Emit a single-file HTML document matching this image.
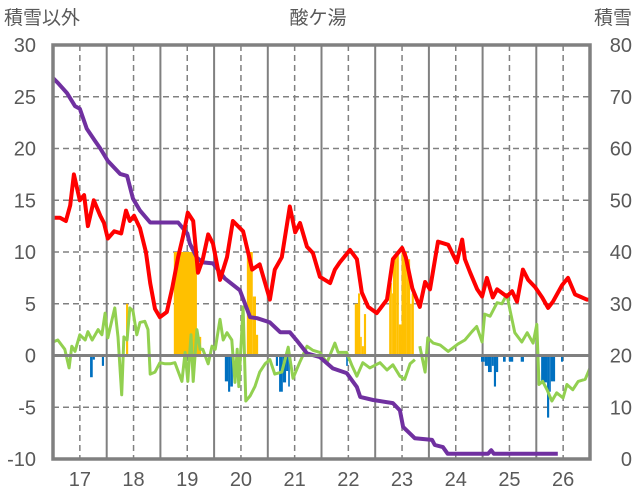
<!DOCTYPE html>
<html><head><meta charset="utf-8"><style>
html,body{margin:0;padding:0;background:#fff;}
svg{display:block;font-family:"Liberation Sans","Noto Sans CJK JP",sans-serif;}
</style></head><body>
<svg id="chart" width="636" height="501" viewBox="0 0 636 501">
<text x="4" y="24" font-size="19" fill="#595959">積雪以外</text>
<text x="318" y="24" font-size="19" fill="#595959" text-anchor="middle">酸ケ湯</text>
<text x="632" y="24" font-size="19" fill="#595959" text-anchor="end">積雪</text>
<g id="grid"></g>
<g id="bars"></g>
<g id="lines"></g>
<g id="axes"></g>
</svg>
<script>
const dayTicks=[17,18,19,20,21,22,23,24,25,26];
const leftTicks=[30,25,20,15,10,5,0,-5,-10];
const rightTicks=[80,70,60,50,40,30,20,10,0];
const redT=[16.50,16.63,16.74,16.82,16.89,17.00,17.08,17.15,17.26,17.38,17.45,17.52,17.64,17.77,17.86,17.93,18.01,18.12,18.23,18.31,18.40,18.49,18.62,18.72,18.83,18.92,19.01,19.11,19.20,19.29,19.39,19.48,19.61,19.74,19.85,20.04,20.21,20.35,20.54,20.63,20.76,20.91,21.01,21.10,21.23,21.34,21.47,21.66,21.75,21.84,22.03,22.16,22.25,22.37,22.53,22.72,22.83,23.00,23.07,23.19,23.33,23.43,23.52,23.67,23.86,24.02,24.12,24.17,24.27,24.40,24.49,24.58,24.69,24.77,24.95,25.05,25.14,25.25,25.35,25.48,25.61,25.72,25.81,25.98,26.09,26.22,26.31,26.44,26.50];
const redV=[13.3,13.3,13.0,14.5,17.5,15,15.5,12.5,15,13.5,12.8,11.3,12,11.8,14,13,13.5,12.3,10,7,4.5,3.7,4.2,6.5,9.5,11.5,13.8,13,8,9.3,11.7,10.8,7.3,9.5,13,12,8.3,8.8,5.4,8.3,9.5,14.4,11.9,12.8,10.5,9.9,7.6,7,8.3,9,10.2,9.3,6.1,4.7,4.1,5.4,9.3,10.4,9.5,6.5,4.7,7.1,6.4,11,10.7,9,11.2,9.3,8,6.4,5.7,7.5,5.6,6.4,5.7,6.2,5.2,8.3,7.3,6.6,5.6,4.6,5.2,6.8,7.5,5.9,5.7,5.4,5.4];
const greenT=[16.50,16.59,16.72,16.80,16.85,16.91,17.00,17.10,17.15,17.23,17.34,17.41,17.47,17.52,17.60,17.65,17.71,17.78,17.82,17.88,17.93,17.99,18.06,18.12,18.21,18.27,18.31,18.40,18.49,18.59,18.68,18.77,18.90,18.96,19.01,19.07,19.11,19.18,19.24,19.29,19.39,19.46,19.52,19.61,19.67,19.74,19.83,19.89,19.93,19.96,20.04,20.09,20.17,20.26,20.35,20.45,20.54,20.63,20.76,20.88,20.97,21.10,21.23,21.34,21.47,21.60,21.75,21.81,21.97,22.07,22.16,22.27,22.40,22.59,22.72,22.83,22.96,23.05,23.15,23.24,23.28,23.33,23.43,23.48,23.58,23.71,23.86,24.04,24.17,24.30,24.39,24.49,24.54,24.64,24.77,24.86,24.95,25.01,25.10,25.23,25.33,25.44,25.51,25.55,25.62,25.70,25.79,25.88,26.00,26.07,26.18,26.28,26.41,26.50];
const greenV=[1.3,1.5,0.6,-1.2,0.9,0.4,2,1.5,2.3,1.5,2.5,2,4.1,1.7,3.5,4.6,1.8,-3.8,1.8,1.5,4.6,4.3,2,3.2,3.3,2.5,-1.8,-1.6,-0.7,-0.8,-0.8,-0.7,-2.5,0.3,-2.5,2,-2.5,2.5,0.6,0.6,-0.8,0.9,0.6,3.5,1.5,2.2,1.5,-2.6,0.6,-3,4.7,-4.4,-3.9,-3,-1.6,-0.8,-0.4,-1.8,-1.6,0.8,-2.2,-0.6,0.9,0.5,0.3,-0.7,1.2,0.3,0.3,-1,-2,-0.7,-1.2,-0.7,-1.4,-0.9,-2,-2.3,-0.8,-0.4,null,0.9,-1.6,1.7,1.2,1.0,0.4,1.1,1.5,2.3,2.8,1.3,4,3.8,5.1,5.0,5.9,4.4,2.2,1.3,2.2,1.2,3,-2.8,-2.5,-3.3,-4.4,-3.6,-4.1,-2.8,-3.3,-2.5,-2.3,-1.2];
const snowT=[16.50,16.59,16.76,16.91,17.00,17.13,17.28,17.38,17.52,17.75,17.88,17.99,18.12,18.31,18.83,19.00,19.05,19.18,19.29,19.48,19.70,19.98,20.17,20.30,20.54,20.73,20.91,21.04,21.23,21.47,21.71,21.97,22.16,22.22,22.46,22.83,22.96,23.02,23.24,23.56,23.61,23.76,23.85,24.60,24.66,24.71,25.90];
const snowV=[73.6,72.7,70.7,68.2,67.7,63.8,61.5,60,57.6,55.1,54.7,50.3,48,45.7,45.7,43.6,41.6,38.9,38,37.8,34.9,32.6,27.4,27.2,26.4,24.5,24.5,22.9,20.4,19.7,17.5,16.6,13.9,12,11.4,10.8,9.4,6.2,4,3.7,2.7,2.3,1,1,1.7,1,1];
const yelStart=[17.86,18.75,19.18,20.11,20.22,20.28,22.12,22.18,22.22,22.25,22.29,22.76,22.81,22.83,22.90,22.94,22.99,23.09,23.15,23.18];
const yelEnd=[17.90,19.18,19.26,20.22,20.28,20.32,22.18,22.22,22.25,22.29,22.33,22.81,22.83,22.90,22.94,22.99,23.09,23.15,23.18,23.22];
const yelV=[5,10,1.8,10,5.7,2,5,6,1.8,0.9,4,7,6,9.5,10,3,10,9.3,5,6];
const bluStart=[17.19,17.24,17.41,19.70,19.76,19.80,20.65,20.71,20.78,20.84,20.88,21.96,24.47,24.54,24.60,24.67,24.71,24.75,24.88,24.99,25.21,25.59,25.70,25.74,25.77,25.96];
const bluEnd=[17.24,17.28,17.45,19.76,19.80,19.85,20.69,20.78,20.84,20.88,20.91,21.99,24.54,24.60,24.67,24.71,24.75,24.79,24.93,25.07,25.27,25.70,25.74,25.77,25.85,26.00];
const bluV=[-2.1,-0.4,-1,-2.5,-3.5,-3,-1,-3.5,-2.6,-1.5,-3,-1,-0.6,-1,-1.6,-1,-3,-1.6,-0.6,-0.6,-0.6,-2.6,-6,-3.5,-2.5,-0.6];

const L=53,R=590,T=45,B=459,t0=16.5,t1=26.5;
const X=t=>L+(t-t0)/(t1-t0)*(R-L);
const Y=v=>B-(v+10)/40*(B-T);
const YR=s=>B-s/80*(B-T);
const NS='http://www.w3.org/2000/svg';
function mk(p,tag,attrs){const e=document.createElementNS(NS,tag);for(const k in attrs)e.setAttribute(k,attrs[k]);p.appendChild(e);return e;}
const grid=document.getElementById('grid'),bars=document.getElementById('bars'),lines=document.getElementById('lines'),axes=document.getElementById('axes');
leftTicks.forEach(v=>{if(v===30||v===-10||v===0)return;
 const g=mk(grid,'line',{x1:L,x2:R,y1:Y(v),y2:Y(v),stroke:'#808080','stroke-width':1.5,'stroke-dasharray':'6,4'});
 
 });
dayTicks.forEach(d=>{
 const g=mk(grid,'line',{x1:X(d),x2:X(d),y1:T,y2:B,stroke:'#808080','stroke-width':1.5,'stroke-dasharray':'6,4'});
 
 
 if(d<26){const s=mk(grid,'line',{x1:X(d+0.5),x2:X(d+0.5),y1:T,y2:B,stroke:'#808080','stroke-width':2});
 
 }
});
yelV.forEach((v,i)=>{const r=mk(bars,'rect',{x:X(yelStart[i]),width:X(yelEnd[i])-X(yelStart[i]),y:Y(v),height:Y(0)-Y(v),fill:'#FFC000'});
 
 });
bluV.forEach((v,i)=>{const r=mk(bars,'rect',{x:X(bluStart[i]),width:X(bluEnd[i])-X(bluStart[i]),y:Y(0),height:Y(v)-Y(0),fill:'#0070C0'});
 
 });
function path(ts,vs,fy){let d='',pen=false;ts.forEach((t,i)=>{const v=vs[i];if(v===null){pen=false;return;}d+=(pen?'L':'M')+X(t).toFixed(1)+' '+fy(v).toFixed(1)+' ';pen=true;});return d;}
const gl=mk(lines,'path',{d:path(greenT,greenV,Y),fill:'none',stroke:'#92D050','stroke-width':3,'stroke-linejoin':'round'});


const pl=mk(lines,'path',{d:path(snowT,snowV,YR),fill:'none',stroke:'#7030A0','stroke-width':4,'stroke-linejoin':'round'});


const rl=mk(lines,'path',{d:path(redT,redV,Y),fill:'none',stroke:'#FF0000','stroke-width':4,'stroke-linejoin':'round'});


const z=mk(axes,'line',{x1:L,x2:R,y1:Y(0),y2:Y(0),stroke:'#808080','stroke-width':3});


const fr=mk(axes,'rect',{x:L,y:T,width:R-L,height:B-T,fill:'none',stroke:'#808080','stroke-width':3.5});


leftTicks.forEach(v=>{const t=mk(axes,'text',{x:36,y:Y(v)+7,'font-size':20,fill:'#595959','text-anchor':'end'});t.textContent=v;
 
 });
rightTicks.forEach(v=>{const t=mk(axes,'text',{x:632,y:YR(v)+7,'font-size':20,fill:'#595959','text-anchor':'end'});t.textContent=v;
 
 });
dayTicks.forEach(d=>{const t=mk(axes,'text',{x:X(d),y:486,'font-size':20,fill:'#595959','text-anchor':'middle'});t.textContent=d;
 
 });
</script>
</body></html>
